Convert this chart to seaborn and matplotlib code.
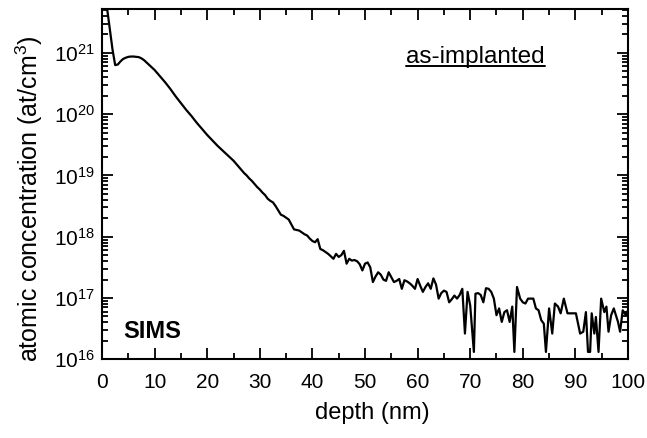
import matplotlib
matplotlib.use("Agg")
import matplotlib.pyplot as plt
import seaborn as sns
import numpy as np
import pandas as pd
from matplotlib.ticker import LogLocator, MultipleLocator, NullFormatter, LogFormatterSciNotation
from matplotlib.lines import Line2D

# SIMS depth profile (depth in nm, log10 of at/cm^3)
depth_nm = [
    0.0, 0.5, 1.0, 1.5, 2.0, 2.5, 3.0, 3.5, 4.0, 4.5,
    5.0, 5.5, 6.0, 6.5, 7.0, 7.5, 8.0, 8.5, 9.0, 9.5,
    10.0, 10.5, 11.0, 11.5, 12.0, 12.5, 13.0, 13.5, 14.0, 14.5,
    15.0, 15.5, 16.0, 16.5, 17.0, 17.5, 18.0, 18.5, 19.0, 19.5,
    20.0, 20.5, 21.0, 21.5, 22.0, 22.5, 23.0, 23.5, 24.0, 24.5,
    25.0, 25.5, 26.0, 26.5, 27.0, 27.5, 28.0, 28.5, 29.0, 29.5,
    30.0, 30.5, 31.0, 31.5, 32.0, 32.5, 33.0, 33.5, 34.0, 34.5,
    35.0, 35.5, 36.0, 36.5, 37.0, 37.5, 38.0, 38.5, 39.0, 39.5,
    40.0, 40.5, 41.0, 41.5, 42.0, 42.5, 43.0, 43.5, 44.0, 44.5,
    45.0, 45.5, 46.0, 46.5, 47.0, 47.5, 48.0, 48.5, 49.0, 49.5,
    50.0, 50.5, 51.0, 51.5, 52.0, 52.5, 53.0, 53.5, 54.0, 54.5,
    55.0, 55.5, 56.0, 56.5, 57.0, 57.5, 58.0, 58.5, 59.0, 59.5,
    60.0, 60.5, 61.0, 61.5, 62.0, 62.5, 63.0, 63.5, 64.0, 64.5,
    65.0, 65.5, 66.0, 66.5, 67.0, 67.5, 68.0, 68.5, 69.0, 69.5,
    70.0, 70.7, 71.0, 71.5, 72.0, 72.5, 73.0, 73.5, 74.0, 74.5,
    75.0, 75.5, 76.0, 76.5, 77.0, 77.5, 78.0, 78.4, 78.9, 79.5,
    80.0, 80.5, 81.0, 81.5, 82.0, 82.5, 83.0, 83.5, 84.0, 84.4,
    85.0, 85.6, 86.1, 86.7, 87.2, 87.8, 88.5, 89.0, 89.5, 90.1,
    90.9, 91.5, 92.0, 92.4, 92.8, 93.1, 93.6, 93.9, 94.4, 94.9,
    95.5, 95.9, 96.3, 96.8, 97.3, 98.1, 98.5, 99.0, 99.6, 100.0,
]
log_conc = [
    22.20, 21.95, 21.70, 21.37, 21.05, 20.80, 20.81, 20.86, 20.90, 20.92,
    20.935, 20.94, 20.94, 20.935, 20.93, 20.91, 20.88, 20.84, 20.80, 20.76,
    20.72, 20.67, 20.62, 20.57, 20.52, 20.465, 20.41, 20.35, 20.29, 20.235,
    20.18, 20.125, 20.07, 20.02, 19.97, 19.915, 19.86, 19.81, 19.76, 19.71,
    19.66, 19.615, 19.57, 19.525, 19.48, 19.44, 19.40, 19.36, 19.32, 19.28,
    19.24, 19.19, 19.14, 19.09, 19.04, 19.00, 18.95, 18.91, 18.86, 18.81,
    18.77, 18.72, 18.68, 18.62, 18.585, 18.56, 18.50, 18.43, 18.36, 18.34,
    18.31, 18.28, 18.20, 18.12, 18.11, 18.10, 18.07, 18.04, 18.02, 17.97,
    17.93, 17.91, 17.96, 17.80, 17.78, 17.75, 17.72, 17.68, 17.64, 17.72,
    17.67, 17.70, 17.77, 17.56, 17.64, 17.61, 17.62, 17.60, 17.55, 17.45,
    17.56, 17.58, 17.50, 17.26, 17.35, 17.42, 17.38, 17.30, 17.28, 17.42,
    17.34, 17.26, 17.28, 17.31, 17.15, 17.29, 17.27, 17.24, 17.20, 17.15,
    17.31, 17.20, 17.10, 17.18, 17.24, 17.15, 17.32, 17.22, 16.99, 17.08,
    17.12, 17.10, 16.93, 16.98, 17.04, 16.99, 17.05, 17.15, 16.42, 17.10,
    16.88, 16.12, 17.07, 17.08, 17.05, 16.93, 17.16, 17.15, 17.10, 16.99,
    16.72, 16.83, 16.61, 16.77, 16.80, 16.61, 16.86, 16.12, 17.18, 16.99,
    16.93, 16.91, 16.99, 16.99, 16.99, 16.83, 16.80, 16.64, 16.58, 16.12,
    16.83, 16.42, 16.91, 16.86, 16.75, 16.99, 16.75, 16.75, 16.75, 16.75,
    16.42, 16.45, 16.77, 16.12, 16.12, 16.75, 16.42, 16.69, 16.12, 16.99,
    16.77, 16.86, 16.45, 16.72, 16.83, 16.61, 16.45, 16.80, 16.72, 16.80,
]

df = pd.DataFrame({"depth": depth_nm, "conc": 10.0 ** np.array(log_conc)})

sns.set_theme(style="ticks")
plt.rcParams['font.family'] = ['Liberation Sans', 'DejaVu Sans']
plt.rcParams['mathtext.fontset'] = 'custom'
plt.rcParams['mathtext.rm'] = 'Liberation Sans'
plt.rcParams['mathtext.it'] = 'Liberation Sans:italic'
plt.rcParams['mathtext.bf'] = 'Liberation Sans:bold'

fig = plt.figure(figsize=(6.47, 4.38), dpi=100)
ax = fig.add_axes([0.1577, 0.1797, 0.8129, 0.7998])

sns.lineplot(data=df, x="depth", y="conc", color="black", linewidth=1.6,
             estimator=None, ax=ax)

ax.set_yscale("log")
ax.set_xlim(0, 100)
ax.set_ylim(1e16, 5.2e21)

ax.xaxis.set_major_locator(MultipleLocator(10))
ax.xaxis.set_minor_locator(MultipleLocator(5))
ax.yaxis.set_major_locator(LogLocator(base=10, numticks=12))
ax.yaxis.set_minor_locator(LogLocator(base=10, subs=np.arange(2, 10), numticks=12))
ax.yaxis.set_major_formatter(LogFormatterSciNotation())
ax.yaxis.set_minor_formatter(NullFormatter())

ax.tick_params(which="both", direction="in", top=True, right=True,
               color="black", labelcolor="black", width=1.3)
ax.tick_params(which="major", length=8, labelsize=15)
ax.tick_params(axis="x", which="major", pad=10)
ax.tick_params(axis="y", which="major", pad=5)
ax.tick_params(which="minor", length=4.5)

for s in ax.spines.values():
    s.set_linewidth(1.5)
    s.set_color("black")

ax.set_xlabel("depth (nm)", fontsize=17, color="black")
ax.set_ylabel("atomic concentration (at/cm$^3$)", fontsize=18, color="black")
ax.xaxis.set_label_coords(0.513, -0.122)
ax.yaxis.set_label_coords(-0.108, 0.458)

ax.text(0.040, 0.06, "SIMS", transform=ax.transAxes, fontsize=17,
        fontweight="bold", color="black", va="baseline", ha="left")
note = ax.text(0.578, 0.8445, "as-implanted", transform=ax.transAxes,
               fontsize=17.5, color="black", va="baseline", ha="left")

# underline for the label
fig.canvas.draw()
bb = note.get_window_extent().transformed(fig.transFigure.inverted())
y_line = bb.y0 + 0.2 * (bb.y1 - bb.y0) - 0.005
fig.add_artist(Line2D([bb.x0, bb.x1], [y_line, y_line], color="black",
                      linewidth=1.4, transform=fig.transFigure))

fig.savefig("out.png", dpi=100)
